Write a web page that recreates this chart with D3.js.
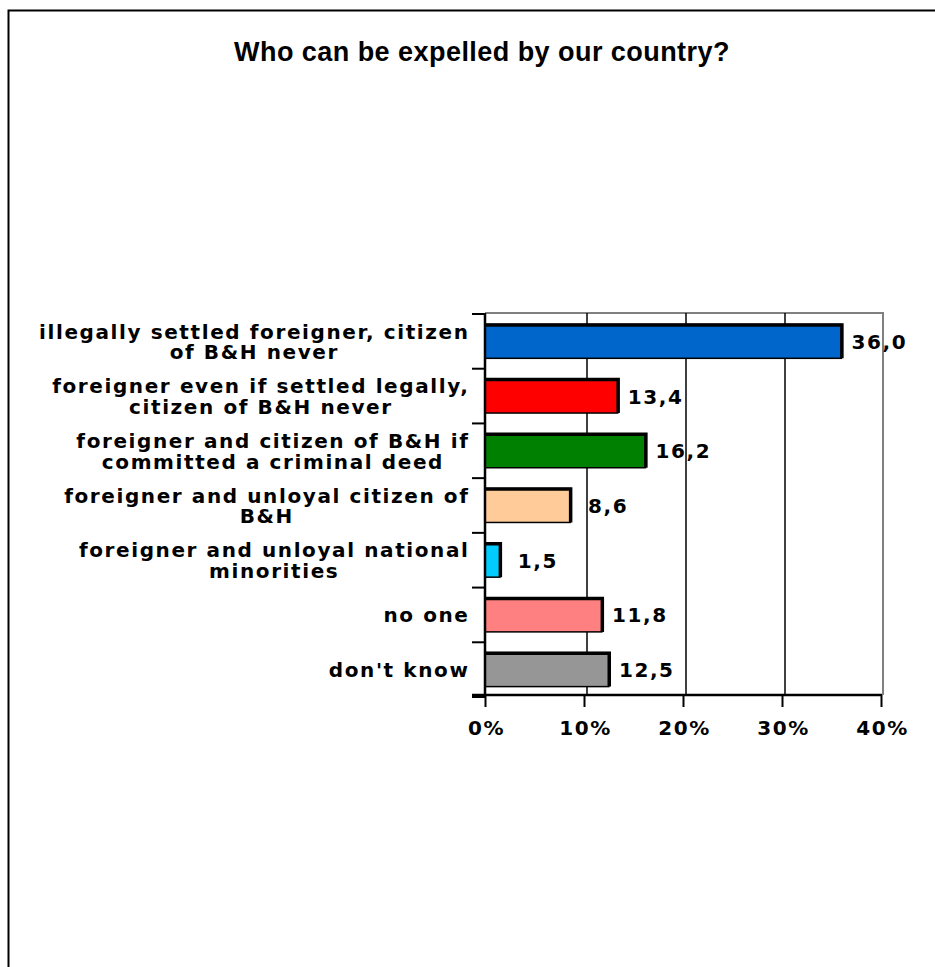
<!DOCTYPE html>
<html>
<head>
<meta charset="utf-8">
<script src="https://cdn.jsdelivr.net/npm/d3@7"></script>
<style>
  html, body { margin: 0; padding: 0; background: #fff; }
  svg { display: block; }
</style>
</head>
<body>
<svg id="chart" width="935" height="967"></svg>
<script>
// Survey answers: "Who can be expelled by our country?" (percent of respondents)
const title = "Who can be expelled by our country?";
const categories = [
  "illegally settled foreigner, citizen\nof B&H never",
  "foreigner even if settled legally,\ncitizen of B&H never",
  "foreigner and citizen of B&H if\ncommitted a criminal deed",
  "foreigner and unloyal citizen of\nB&H",
  "foreigner and unloyal national\nminorities",
  "no one",
  "don't know"
];
const values = [36.0, 13.4, 16.2, 8.6, 1.5, 11.8, 12.5];
const xTicks = [0, 10, 20, 30, 40];
const palette = ["#0066CC", "#FF0000", "#008000", "#FFCC99", "#00CCFF", "#FF8080", "#969696"];

const svg = d3.select("#chart");
const labelFont = "'DejaVu Sans', Verdana, sans-serif";
const titleFont = "'Liberation Sans', Arial, sans-serif";
const labelSize = "20px", labelSpacing = "1.6px";

// Decimal comma for the value labels
const fmt = d3.formatLocale({decimal: ",", thousands: ".", grouping: [3], currency: ["", ""]}).format(".1f");

// Outer frame
svg.append("rect")
  .attr("x", 8.5).attr("y", 10.5)
  .attr("width", 1000).attr("height", 1000)
  .attr("fill", "none").attr("stroke", "#000").attr("stroke-width", 2);

// Title
svg.append("text")
  .attr("x", 482).attr("y", 60.5)
  .attr("text-anchor", "middle")
  .style("font-family", titleFont).style("font-weight", "bold")
  .style("font-size", "27px").style("letter-spacing", "0.45px")
  .text(title);

// Plot geometry
const plotL = 485, plotR = 881, plotT = 314, plotB = 697;
const x = d3.scaleLinear().domain([0, 40]).range([plotL, plotR]);
const y = d3.scaleBand().domain(categories).range([plotT, plotB])
  .paddingInner(0.38).paddingOuter(0.19);
const depth = 3;

// Back wall edges (grey)
svg.append("path")
  .attr("d", `M${plotL},${plotT - 1}H${plotR + 2}V${plotB - 2}`)
  .attr("fill", "none").attr("stroke", "#808080").attr("stroke-width", 2);

// Vertical gridlines, drawn on the back wall
svg.append("g").selectAll("line")
  .data(xTicks.filter(d => d > 0 && d < 40))
  .join("line")
  .attr("x1", d => x(d) + depth).attr("x2", d => x(d) + depth)
  .attr("y1", plotT - 1).attr("y2", plotB - 2)
  .attr("stroke", "#000").attr("stroke-width", 1.5);

// Bars
const bars = svg.append("g");
categories.forEach((c, i) => {
  const x0 = x(0), x1 = x(values[i]);
  const y0 = y(c), h = y.bandwidth();
  bars.append("rect")
    .attr("x", x0).attr("y", y0)
    .attr("width", x1 - x0).attr("height", h)
    .attr("fill", palette[i])
    .attr("stroke", "#000").attr("stroke-width", 1.5);
  // darker top and right faces
  bars.append("path")
    .attr("d", `M${x0},${y0 + 0.5}H${x1 + 0.5}V${y0 + h}`)
    .attr("fill", "none").attr("stroke", "#000").attr("stroke-width", 3.5);
});

// Value labels
svg.append("g").selectAll("text")
  .data(values)
  .join("text")
  .attr("x", d => x(d) + 38)
  .attr("y", (d, i) => y(categories[i]) + y.bandwidth() / 2 + 7.5)
  .attr("text-anchor", "middle")
  .style("font-family", labelFont).style("font-weight", "bold")
  .style("font-size", labelSize).style("letter-spacing", labelSpacing)
  .text(d => fmt(d));

// Bottom axis
const xAxis = d3.axisBottom(x)
  .tickValues(xTicks)
  .tickSize(12)
  .tickFormat(d => d + "%");
const gx = svg.append("g").attr("transform", `translate(0,${plotB - 2})`).call(xAxis);
gx.select(".domain").remove();
gx.selectAll(".tick line").attr("stroke", "#000").attr("stroke-width", 2);
gx.selectAll(".tick text")
  .attr("y", 40).attr("dy", 0).attr("dx", 1)
  .style("font-family", labelFont).style("font-weight", "bold")
  .style("font-size", labelSize).style("letter-spacing", labelSpacing).attr("fill", "#000");
svg.append("line")
  .attr("x1", plotL - 13).attr("x2", plotR + 1)
  .attr("y1", plotB - 2).attr("y2", plotB - 2)
  .attr("stroke", "#000").attr("stroke-width", 2.5);

// Left axis with category separators
svg.append("line")
  .attr("x1", plotL).attr("x2", plotL)
  .attr("y1", plotT - 1).attr("y2", plotB - 2)
  .attr("stroke", "#000").attr("stroke-width", 2.5);
svg.append("g").selectAll("line")
  .data(d3.range(categories.length + 1))
  .join("line")
  .attr("x1", plotL - 13).attr("x2", plotL)
  .attr("y1", i => plotT + i * y.step()).attr("y2", i => plotT + i * y.step())
  .attr("stroke", "#000").attr("stroke-width", 2);

// Category labels: block right-aligned, lines centred within the block
const labelRight = 469.5, lineGap = 20.5;
categories.forEach(c => {
  const lines = c.split("\n");
  const cy = y(c) + y.bandwidth() / 2;
  const g = svg.append("g");
  const texts = lines.map((ln, j) => g.append("text")
    .attr("y", cy + (j - (lines.length - 1) / 2) * lineGap + 7.5)
    .attr("text-anchor", "middle")
    .style("font-family", labelFont).style("font-weight", "bold")
    .style("font-size", labelSize).style("letter-spacing", labelSpacing)
    .text(ln));
  const w = d3.max(texts, t => t.node().getComputedTextLength());
  texts.forEach(t => t.attr("x", labelRight - w / 2));
});
</script>
</body>
</html>
